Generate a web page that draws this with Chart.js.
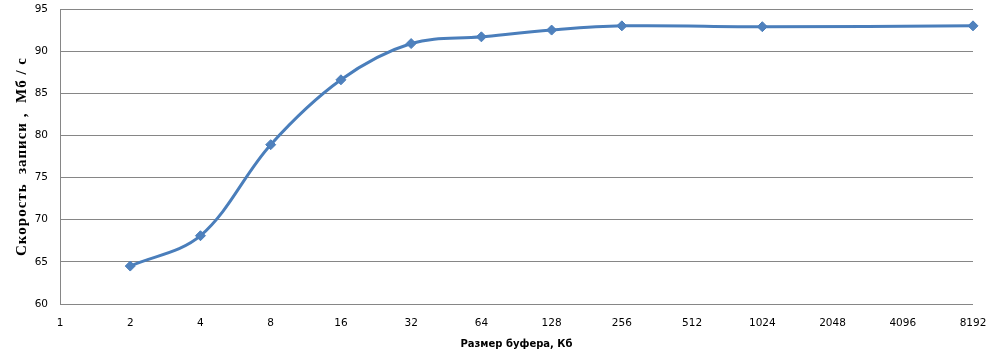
<!DOCTYPE html>
<html>
<head>
<meta charset="utf-8">
<script src="https://cdn.jsdelivr.net/npm/chart.js@4"></script>
<style>
html,body{margin:0;padding:0;background:#fff;}
#wrap{width:996px;height:358px;position:relative;}
</style>
</head>
<body>
<div id="wrap"><canvas id="c" width="996" height="358"></canvas></div>
<script>
const categories = ['1','2','4','8','16','32','64','128','256','512','1024','2048','4096','8192'];
const writeSpeed = [null,64.5,68.1,78.9,86.6,90.9,91.7,92.5,93.0,null,92.9,null,null,93.0];
const yTicks = [60,65,70,75,80,85,90,95];
const xTitle = 'Размер буфера, Кб';
const yTitle = 'Скорость  записи ,  Мб / с';

const lineColor = '#4a7ebb';
const gridColor = '#868686';

new Chart(document.getElementById('c'), {
  type: 'line',
  data: {
    labels: categories,
    datasets: [{
      data: writeSpeed,
      borderColor: lineColor,
      backgroundColor: '#4f81bd',
      borderWidth: 3,
      pointStyle: 'rectRot',
      pointRadius: 5,
      pointBorderWidth: 1,
      pointBorderColor: lineColor,
      tension: 0.35,
      spanGaps: true,
      fill: false
    }]
  },
  options: {
    responsive: false,
    animation: false,
    devicePixelRatio: 1,
    layout: { padding: { left: 0, right: 23, top: 9, bottom: 0 } },
    plugins: { legend: { display: false }, tooltip: { enabled: false } },
    scales: {
      x: {
        type: 'category',
        offset: false,
        grid: { display: false, drawTicks: false },
        border: { display: false },
        ticks: {
          color: '#000',
          padding: 13,
          maxRotation: 0,
          autoSkip: false,
          font: { family: 'DejaVu Sans', size: 10.5 }
        },
        title: {
          display: true,
          text: xTitle,
          color: '#000',
          padding: 8,
          font: { family: 'DejaVu Sans', size: 10, weight: 'bold' }
        },
        afterFit: (s) => {
          s.height = 54;
          s.paddingLeft = 0;
          s.paddingRight = 0;
        }
      },
      y: {
        min: 60,
        max: 95,
        afterBuildTicks: (s) => { s.ticks = yTicks.map(v => ({ value: v })); },
        grid: { color: gridColor, lineWidth: 1, drawTicks: false },
        border: { display: true, color: gridColor, width: 1 },
        ticks: {
          color: '#000',
          padding: 12,
          font: { family: 'DejaVu Sans', size: 10.5 }
        },
        title: {
          display: true,
          text: yTitle,
          color: '#000',
          padding: 13,
          font: { family: 'Liberation Serif', size: 15, weight: 'bold' }
        },
        afterFit: (s) => {
          s.width = 60;
          s.paddingTop = 0;
          s.paddingBottom = 0;
          if (!s._spaced) {
            const orig = s.drawTitle;
            s.drawTitle = function () {
              const c = this.ctx;
              c.save();
              c.letterSpacing = '1px';
              orig.apply(this, arguments);
              c.restore();
            };
            s._spaced = true;
          }
        }
      }
    }
  }
});
</script>
</body>
</html>
